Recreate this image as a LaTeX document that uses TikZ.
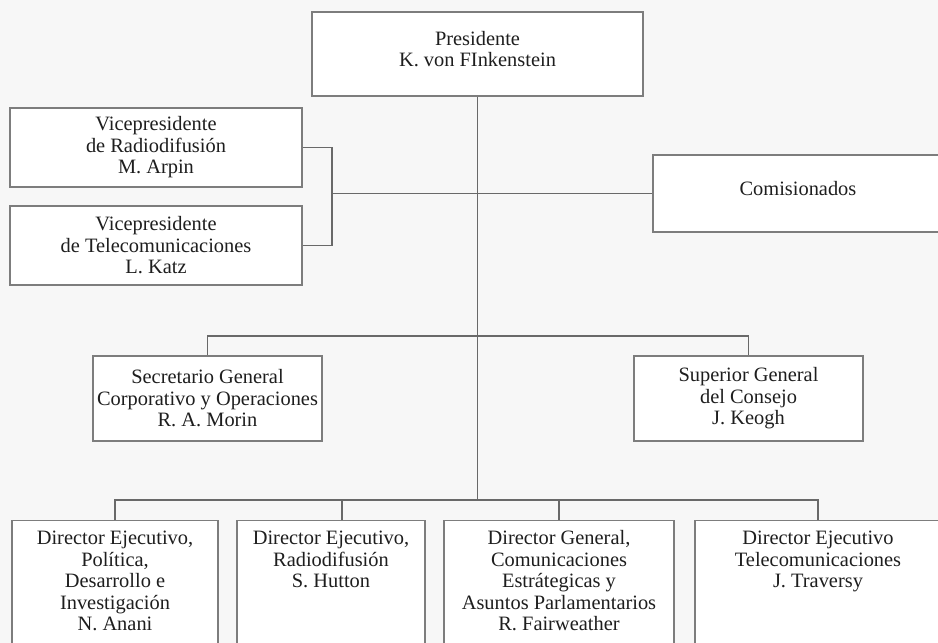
\documentclass[tikz,border=0pt]{standalone}
\usepackage{fontspec}
\setmainfont{Liberation Serif}
\definecolor{paper}{RGB}{247,247,247}
\definecolor{boxline}{RGB}{125,125,125}
\definecolor{wire}{RGB}{105,105,105}
\definecolor{ink}{RGB}{30,30,30}
\tikzset{
  orgbox/.style={draw=boxline, line width=1.2pt, fill=white,
    text=ink, inner sep=0pt, align=center, font=\fontsize{20.4}{21.5}\selectfont},
  lowbox/.style={orgbox, anchor=north},
  wirestyle/.style={draw=wire, line width=1.1pt}
}
\newcommand{\lowtext}[2]{\parbox[c][135pt][t]{#1}{\centering\rule{0pt}{24pt}#2}}
\begin{document}
\begin{tikzpicture}[x=1pt,y=-1pt]
\useasboundingbox (0,0) rectangle (938,643);
\clip (0,0) rectangle (938,643);
\fill[paper] (0,0) rectangle (938,643);
% junctions of the connectors
\coordinate (j1) at (332,193.5);
\coordinate (j2) at (477.5,336);
\coordinate (j3) at (477.5,500);
\coordinate (s2) at (342,500);
% boxes
\node[orgbox, minimum width=331pt, minimum height=84pt, text depth=10pt] (pres) at (477.5,54) {Presidente\\K. von FInkenstein};
\node[orgbox, minimum width=292pt, minimum height=79pt] (vpr) at (156,147.5) {Vicepresidente\\de Radiodifusión\\M. Arpin};
\node[orgbox, minimum width=292pt, minimum height=79pt] (vpt) at (156,245.5) {Vicepresidente\\de Telecomunicaciones\\L. Katz};
\node[orgbox, minimum width=290pt, minimum height=77pt, text depth=10pt] (com) at (798,193.5) {Comisionados};
\node[orgbox, minimum width=229pt, minimum height=85pt] (sec) at (207.5,398.5) {Secretario General\\Corporativo y Operaciones\\R. A. Morin};
\node[orgbox, minimum width=229pt, minimum height=85pt] (sup) at (748.5,398.5) {Superior General\\del Consejo\\J. Keogh};
\node[lowbox] (b1) at (115,520) {\lowtext{206pt}{Director Ejecutivo,\\Política,\\Desarrollo e\\Investigación\\N. Anani}};
\node[lowbox] (b2) at (331,520) {\lowtext{188pt}{Director Ejecutivo,\\Radiodifusión\\S. Hutton}};
\node[lowbox] (b3) at (559,520) {\lowtext{230pt}{Director General,\\Comunicaciones\\Estrátegicas y\\Asuntos Parlamentarios\\R. Fairweather}};
\node[lowbox] (b4) at (818,520) {\lowtext{246pt}{Director Ejecutivo\\Telecomunicaciones\\J. Traversy}};
% connectors
\draw[wirestyle] (pres.south) -- (j3);
\draw[wirestyle] (j1) -- (com.west);
\draw[wirestyle] (vpr.east) -- (vpr.east -| j1) -- (vpt.east -| j1) -- (vpt.east);
\draw[wirestyle] (sec.north) |- (j2) -| (sup.north);
\draw[wirestyle] (b1.north) |- (j3) -| (b4.north);
\draw[wirestyle] (s2) -- (s2 |- b2.north);
\draw[wirestyle] (b3.north |- j3) -- (b3.north);
\end{tikzpicture}
\end{document}
